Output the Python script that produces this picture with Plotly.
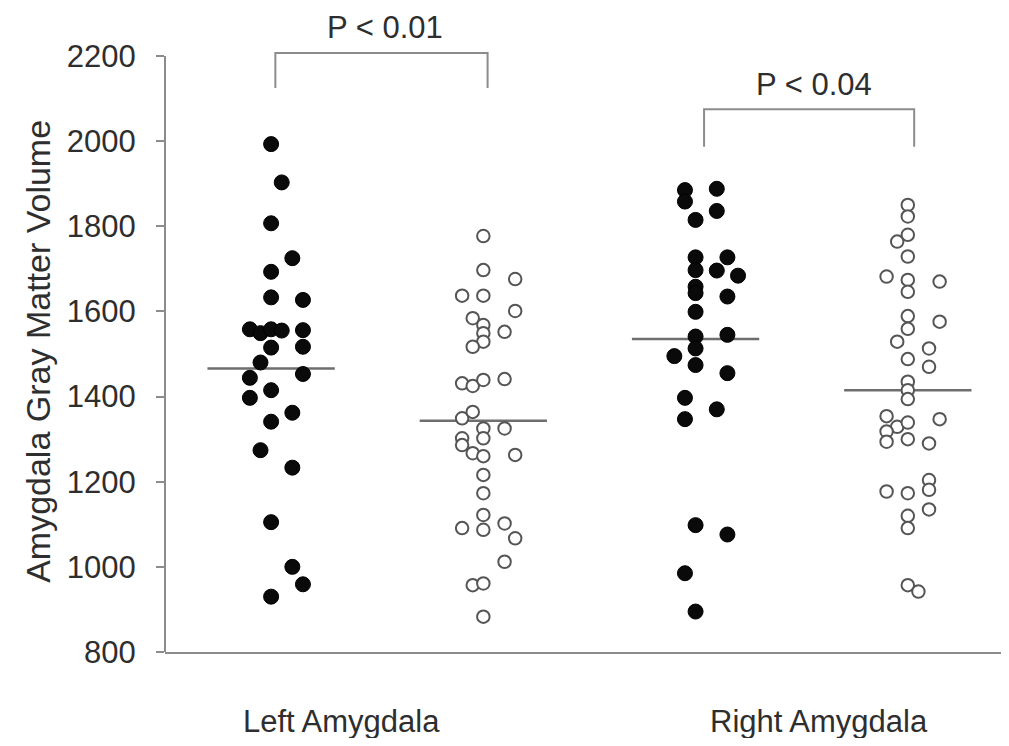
import plotly.graph_objects as go

# ---- data ----
group_names = ["Left Amygdala", "Right Amygdala"]

left_filled_vals = [1993, 1903, 1807, 1725, 1693, 1633, 1627, 1558, 1549, 1558, 1555, 1556, 1515, 1517,
                    1480, 1444, 1453, 1415, 1397, 1362, 1341, 1274, 1233, 1105, 1000, 959, 930]
left_filled_jit = [0, 1, 0, 2, 0, 0, 3, -2, -1, 0, 1, 3, 0, 3,
                   -1, -2, 3, 0, -2, 2, 0, -1, 2, 0, 2, 3, 0]

left_open_vals = [1777, 1697, 1676, 1637, 1637, 1601, 1584, 1568, 1552, 1549, 1529, 1517,
                  1431, 1425, 1439, 1441, 1349, 1364, 1325, 1325, 1302, 1302, 1286, 1267, 1260, 1263,
                  1216, 1173, 1122, 1091, 1087, 1102, 1067, 1012, 957, 961, 883]
left_open_jit = [0, 0, 3, -2, 0, 3, -1, 0, 2, 0, 0, -1,
                 -2, -1, 0, 2, -2, -1, 0, 2, -2, 0, -2, -1, 0, 3,
                 0, 0, 0, -2, 0, 2, 3, 2, -1, 0, 0]

right_filled_vals = [1885, 1858, 1888, 1836, 1815, 1727, 1727, 1697, 1696, 1684, 1658, 1643, 1635, 1599,
                     1541, 1545, 1513, 1495, 1474, 1455, 1397, 1370, 1347, 1098, 1076, 985, 895]
right_filled_jit = [-1, -1, 2, 2, 0, 0, 3, 0, 2, 4, 0, 0, 3, 0,
                    0, 3, 0, -2, 0, 3, -1, 2, -1, 0, 3, -1, 0]

right_open_vals = [1850, 1823, 1780, 1764, 1729, 1682, 1674, 1670, 1646, 1589, 1576, 1559, 1529, 1513,
                   1488, 1470, 1435, 1415, 1394, 1354, 1347, 1329, 1339, 1318, 1294, 1300, 1290,
                   1204, 1181, 1177, 1173, 1135, 1120, 1091, 957, 942]
right_open_jit = [0, 0, 0, -1, 0, -2, 0, 3, 0, 0, 3, 0, -1, 2,
                  0, 2, 0, 0, 0, -2, 3, -1, 0, -2, -2, 0, 2,
                  2, 2, -2, 0, 2, 0, 0, 0, 1]

group_means = [1466, 1343, 1535, 1415]
p_labels = ["P < 0.01", "P < 0.04"]
y_ticks = [800, 1000, 1200, 1400, 1600, 1800, 2000, 2200]

# ---- layout constants ----
STEP = 0.05          # horizontal jitter step (x units)
HALF = 0.30          # half width of mean line
AX = "#8c8c8c"
TXT = "#2e2e2e"
FONT = "Liberation Sans, Arial, sans-serif"
FS = 31

fig = go.Figure()

groups = [
    (1, left_filled_vals, left_filled_jit, True),
    (2, left_open_vals, left_open_jit, False),
    (3, right_filled_vals, right_filled_jit, True),
    (4, right_open_vals, right_open_jit, False),
]

for pos, vals, jit, filled in groups:
    xs = [pos + j * STEP for j in jit]
    if filled:
        marker = dict(size=15, color="#0a0a0a", line=dict(color="#000000", width=1))
    else:
        marker = dict(size=12.5, color="white", line=dict(color="#555555", width=2))
    fig.add_trace(go.Scatter(x=xs, y=vals, mode="markers", marker=marker,
                             showlegend=False, hoverinfo="y", cliponaxis=False))

# mean lines
for pos, m in zip([1, 2, 3, 4], group_means):
    fig.add_shape(type="line", xref="x", yref="y", x0=pos - HALF, x1=pos + HALF, y0=m, y1=m,
                  line=dict(color="#6e6e6e", width=2.5), layer="below")

# significance brackets
brackets = [(1.02, 2.02, 2207, 2125, p_labels[0], 1.537, 2268),
            (3.04, 4.03, 2075, 1987, p_labels[1], 3.56, 2134)]
for xa, xb, ytop, ybot, lab, xt, yt in brackets:
    fig.add_shape(type="path", xref="x", yref="y",
                  path=f"M {xa},{ybot} L {xa},{ytop} L {xb},{ytop} L {xb},{ybot}",
                  line=dict(color=AX, width=2))
    fig.add_annotation(x=xt, y=yt, xref="x", yref="y", text=lab,
                       showarrow=False, font=dict(size=FS, color=TXT, family=FONT))

# y axis line only up to 2200
fig.add_shape(type="line", xref="paper", yref="y", x0=0, x1=0, y0=800, y1=2200,
              line=dict(color=AX, width=2))

# category labels
for xl, name in zip([1.33, 3.58], group_names):
    fig.add_annotation(x=xl, y=-0.109, xref="x", yref="paper", text=name, showarrow=False,
                       font=dict(size=FS, color=TXT, family=FONT), xanchor="center", yanchor="middle")

# y axis title
fig.add_annotation(x=-0.152, y=0.468, xref="paper", yref="paper", text="Amygdala Gray Matter Volume",
                   showarrow=False, textangle=-90, xanchor="center", yanchor="middle",
                   font=dict(size=34, color=TXT, family=FONT))

# the page body has an 8px margin: the figure is sized/offset to compensate
fig.update_layout(
    width=1001, height=730,
    margin=dict(l=157, r=4, t=2, b=86),
    paper_bgcolor="white", plot_bgcolor="white",
    xaxis=dict(range=[0.5, 4.458], showgrid=False, zeroline=False, showticklabels=False,
               showline=True, linecolor=AX, linewidth=2, ticks=""),
    yaxis=dict(range=[800, 2308], showgrid=False, zeroline=False, showline=False,
               tickmode="array", tickvals=y_ticks, ticks="outside", ticklen=8, tickwidth=2,
               tickcolor=AX, ticklabelstandoff=14, tickfont=dict(size=FS, color=TXT, family=FONT)),
)

fig.write_html("out.html")
